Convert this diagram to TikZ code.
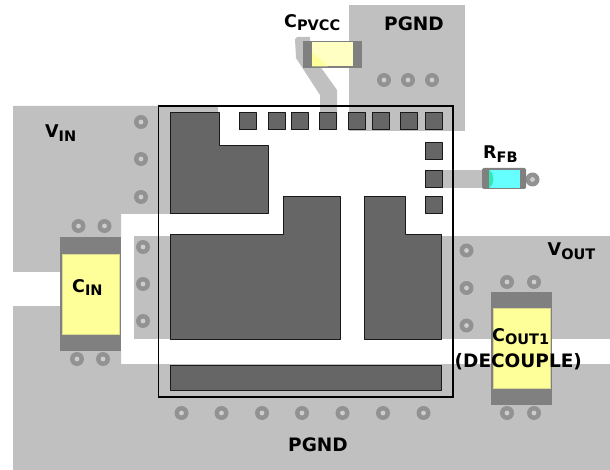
\documentclass[tikz,border=0pt]{standalone}
\usepackage{fontspec}
\setmainfont{DejaVu Sans}
\usetikzlibrary{positioning}
\definecolor{planegray}{HTML}{C0C0C0}
\definecolor{leadgray}{HTML}{808080}
\definecolor{padgray}{HTML}{666666}
\definecolor{viagray}{HTML}{929292}
\definecolor{capyellow}{HTML}{FFFF99}
\definecolor{capedge}{HTML}{D8D890}
\definecolor{palecap}{HTML}{FFFFC4}
\definecolor{rescyan}{HTML}{66FFFF}
\definecolor{restint}{HTML}{33E8B0}
\tikzset{
  plane/.style={fill=planegray, draw=none},
  icpad/.style={fill=padgray, draw=black!90, line width=1pt, line join=round},
  leadbox/.style={fill=leadgray, draw=none},
  capbody/.style={fill=capyellow, draw=capedge, line width=0.4pt},
  label/.style={font=\bfseries\fontsize{17.5}{19}\selectfont, inner sep=0pt, anchor=base west},
  biglabel/.style={label, font=\bfseries\fontsize{18.5}{20}\selectfont},
  via/.pic={\fill[viagray] (0,0) circle (7); \fill[planegray!80!white] (0,0) circle (2.4);}
}
\newcommand{\Sub}[1]{\raisebox{-3.5pt}{\fontsize{14.5}{14.5}\selectfont #1}}
\begin{document}
\begin{tikzpicture}[x=1pt, y=-1pt]
  \useasboundingbox (0, 0) rectangle (610, 470);

  % copper
  \fill[plane] (13, 106) -- (218, 106) -- (218, 214) -- (121, 214) -- (121, 238) -- (60, 238) -- (60, 272) -- (13, 272) -- cycle;
  \fill[plane] (13, 306) -- (60, 306) -- (60, 351) -- (121, 351) -- (121, 364) -- (610, 364) -- (610, 470) -- (13, 470) -- cycle;
  \fill[plane] (134, 236) rectangle (172, 339);
  \fill[plane] (441, 236) rectangle (610, 339);
  \fill[plane] (349, 5) rectangle (465, 131);
  \fill[plane] (295, 39) -- (297, 37) -- (310, 37) -- (310, 60) -- (322, 69) -- (337, 90) -- (337, 125) -- (320, 125) -- (320, 95) -- (296, 58) -- cycle;
  \fill[plane] (442, 170) rectangle (484, 188);

  % vias
  \foreach \px/\py in {141/122, 141/159, 141/197, 143/247, 143/284, 143/321,
      78.5/226, 104.5/226, 77/359, 103/359, 384/80, 408/80, 432/80,
      181.5/413, 221.5/413, 262/413, 302/413, 342.5/413, 383/413, 423.5/413,
      466.5/250.5, 466.5/288, 466.5/325.5, 507/282, 534/282, 507/413, 534/413, 532.5/179.5}
    \pic at (\px, \py) {via};

  % exposed pads
  \draw[icpad] (170, 113) -- (219, 113) -- (219, 146) -- (268, 146) -- (268, 214) -- (170, 214) -- cycle;
  \draw[icpad] (170, 235) -- (283, 235) -- (283, 197) -- (340, 197) -- (340, 339) -- (170, 339) -- cycle;
  \draw[icpad] (364, 197) -- (405, 197) -- (405, 235) -- (441, 235) -- (441, 339) -- (364, 339) -- cycle;
  \draw[icpad] (170, 365) rectangle (441, 390);
  \foreach \px in {239, 268, 291, 319, 348, 372, 400, 425}
    \draw[icpad] (\px, 113) rectangle ++(17, 17);
  \foreach \py in {143, 171, 197}
    \draw[icpad] (425, \py) rectangle ++(17, 17);

  % package outline
  \draw[black, line width=1.3pt] (158.5, 106) rectangle (453, 397);

  % parts
  \fill[leadbox] (302.5, 41.5) rectangle (362, 68);
  \fill[palecap] (312, 42.5) rectangle (353, 66.5);
  \fill[capyellow] (312, 52) -- (328, 66.5) -- (312, 66.5) -- cycle;
  \fill[leadbox, rounded corners=1.5pt] (482, 168) rectangle (526, 189);
  \fill[rescyan] (489, 170) rectangle (520, 188);
  \fill[restint] (489, 170) .. controls (495, 174) and (495, 184) .. (489, 188) -- cycle;
  \fill[leadbox] (60, 237) rectangle (121, 351);
  \draw[capbody] (62, 254) rectangle (119, 334);
  \fill[leadbox] (491, 292) rectangle (552, 405);
  \draw[capbody] (493, 308) rectangle (550, 388);

  % labels
  \node[label] (vin) at (45, 138) {V\Sub{IN}};
  \node[label] (vout) at (547.5, 256) {V\Sub{OUT}};
  \node[label] (cin) at (72, 292) {C\Sub{IN}};
  \node[label] (cpvcc) at (284, 27.5) {C\Sub{PVCC}};
  \node[biglabel] (pgndtop) at (384, 30.5) {PGND};
  \node[label] (rfb) at (483, 159) {R\Sub{FB}};
  \node[biglabel] (pgndbot) at (288, 451.5) {PGND};
  \node[label] (cout) at (492, 341) {C\Sub{OUT1}};
  \node[biglabel] (decouple) at (454.5, 367.5) {(DECOUPLE)};
\end{tikzpicture}
\end{document}
